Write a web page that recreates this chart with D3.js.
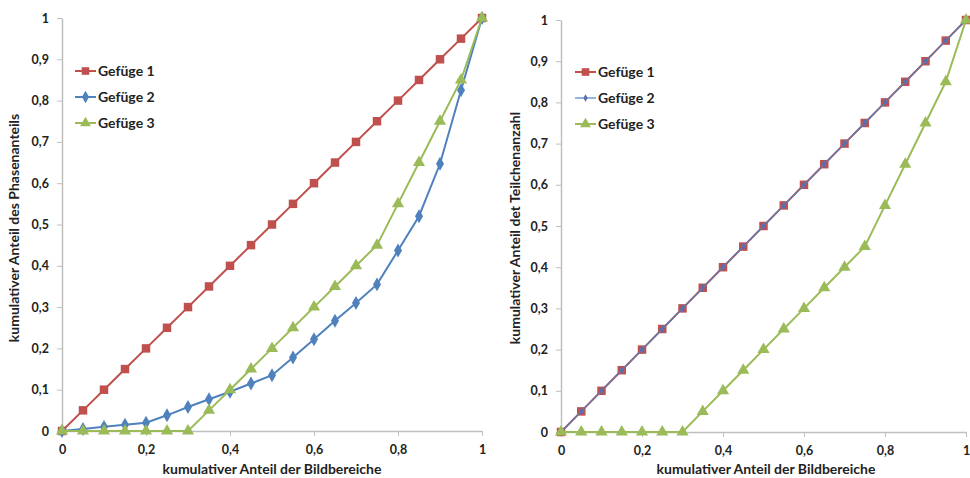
<!DOCTYPE html>
<html>
<head>
<meta charset="utf-8">
<script src="https://cdn.jsdelivr.net/npm/d3@7"></script>
<style>
  body { margin: 0; background: #fff; }
  svg text { font-family: Lato, "Open Sans", sans-serif; font-weight: bold; fill: #222; }
</style>
</head>
<body>
<svg id="chart" width="970" height="478"></svg>
<script>
// x-Werte (kumulativer Anteil der Bildbereiche)
var xVals = [0, 0.05, 0.1, 0.15, 0.2, 0.25, 0.3, 0.35, 0.4, 0.45, 0.5, 0.55, 0.6, 0.65, 0.7, 0.75, 0.8, 0.85, 0.9, 0.95, 1];

// linkes Diagramm: Phasenanteil
var phase1 = [0, 0.05, 0.1, 0.15, 0.2, 0.25, 0.3, 0.35, 0.4, 0.45, 0.5, 0.55, 0.6, 0.65, 0.7, 0.75, 0.8, 0.85, 0.9, 0.95, 1];
var phase2 = [0, 0.005, 0.01, 0.015, 0.02, 0.038, 0.058, 0.077, 0.095, 0.115, 0.135, 0.178, 0.222, 0.267, 0.31, 0.355, 0.437, 0.52, 0.647, 0.825, 1];
var phase3 = [0, 0, 0, 0, 0, 0, 0, 0.05, 0.1, 0.15, 0.2, 0.25, 0.3, 0.35, 0.4, 0.45, 0.55, 0.65, 0.75, 0.85, 1];

// rechtes Diagramm: Teilchenanzahl
var teil1 = [0, 0.05, 0.1, 0.15, 0.2, 0.25, 0.3, 0.35, 0.4, 0.45, 0.5, 0.55, 0.6, 0.65, 0.7, 0.75, 0.8, 0.85, 0.9, 0.95, 1];
var teil2 = [0, 0.05, 0.1, 0.15, 0.2, 0.25, 0.3, 0.35, 0.4, 0.45, 0.5, 0.55, 0.6, 0.65, 0.7, 0.75, 0.8, 0.85, 0.9, 0.95, 1];
var teil3 = [0, 0, 0, 0, 0, 0, 0, 0.05, 0.1, 0.15, 0.2, 0.25, 0.3, 0.35, 0.4, 0.45, 0.55, 0.65, 0.75, 0.85, 1];

var seriesNames = ["Gefüge 1", "Gefüge 2", "Gefüge 3"];
var xTicks = [0, 0.2, 0.4, 0.6, 0.8, 1];
var yTicks = [0, 0.1, 0.2, 0.3, 0.4, 0.5, 0.6, 0.7, 0.8, 0.9, 1];
var xTitle = "kumulativer Anteil der Bildbereiche";

var colors = ["#C0504D", "#4F81BD", "#9BBB59"];
var svg = d3.select("#chart");
var fmt = function (d) { return String(d).replace(".", ","); };

function drawPanel(cfg) {
    var x = d3.scaleLinear().domain([0, 1]).range([cfg.x0, cfg.x1]);
    var y = d3.scaleLinear().domain([0, 1]).range([cfg.y0, cfg.y1]);
    var g = svg.append("g");

    // Achsen
    var xAxis = g.append("g").attr("transform", "translate(0," + cfg.y0 + ")")
        .call(d3.axisBottom(x).tickValues(xTicks).tickFormat(fmt).tickSize(5).tickSizeOuter(0));
    var yAxis = g.append("g").attr("transform", "translate(" + cfg.x0 + ",0)")
        .call(d3.axisLeft(y).tickValues(yTicks).tickFormat(fmt).tickSize(5).tickSizeOuter(0));
    [xAxis, yAxis].forEach(function (a) {
        a.select(".domain").attr("stroke", "#bfbfbf").attr("stroke-width", 1.5);
        a.selectAll(".tick line").attr("stroke", "#bfbfbf");
        a.selectAll(".tick text").style("font-size", "12.5px").attr("fill", "#222");
    });
    xAxis.selectAll(".tick text").attr("dy", "1.2em");
    yAxis.selectAll(".tick text").attr("dx", "-5px");

    g.append("text")
        .attr("x", cfg.titleX)
        .attr("y", 474)
        .attr("text-anchor", "middle")
        .style("font-size", "14px")
        .text(xTitle);

    g.append("text")
        .attr("transform", "translate(" + cfg.yTitleX + ",228) rotate(-90)")
        .attr("text-anchor", "middle")
        .style("font-size", "14px")
        .text(cfg.yTitle);

    var line = d3.line()
        .x(function (d, i) { return x(xVals[i]); })
        .y(function (d) { return y(d); });

    cfg.series.forEach(function (vals, k) {
        var s = cfg.styles[k];
        g.append("path")
            .datum(vals)
            .attr("d", line)
            .attr("fill", "none")
            .attr("stroke", colors[k])
            .attr("stroke-width", s.width);
        g.append("g").selectAll("path").data(vals).enter()
            .append("path")
            .attr("transform", function (d, i) { return "translate(" + x(xVals[i]) + "," + y(d) + ")"; })
            .attr("d", d3.symbol().type(s.sym).size(s.size))
            .attr("fill", s.fill || colors[k])
            .attr("stroke", s.stroke || "none")
            .attr("stroke-width", 1);
    });

    // Legende
    var leg = g.append("g");
    seriesNames.forEach(function (name, k) {
        var s = cfg.styles[k];
        var ly = cfg.legY + k * 26;
        leg.append("line")
            .attr("x1", cfg.legX).attr("x2", cfg.legX + 21)
            .attr("y1", ly).attr("y2", ly)
            .attr("stroke", colors[k]).attr("stroke-width", s.width);
        leg.append("path")
            .attr("transform", "translate(" + (cfg.legX + 10.5) + "," + ly + ")")
            .attr("d", d3.symbol().type(s.sym).size(s.size * 0.8))
            .attr("fill", s.fill || colors[k])
            .attr("stroke", s.stroke || "none");
        leg.append("text")
            .attr("x", cfg.legX + 23).attr("y", ly + 5)
            .style("font-size", "14px")
            .text(name);
    });
}

drawPanel({
    x0: 62, x1: 482, y0: 431, y1: 18,
    titleX: 272, yTitleX: 19,
    yTitle: "kumulativer Anteil des Phasenanteils",
    series: [phase1, phase2, phase3],
    legX: 75, legY: 71,
    styles: [
        { sym: d3.symbolSquare, size: 72, width: 2 },
        { sym: d3.symbolDiamond, size: 56, width: 2 },
        { sym: d3.symbolTriangle, size: 64, width: 2 }
    ]
});

drawPanel({
    x0: 561, x1: 966, y0: 432, y1: 20,
    titleX: 766, yTitleX: 520,
    yTitle: "kumulativer Anteil det Teilchenanzahl",
    series: [teil1, teil2, teil3],
    legX: 575, legY: 72,
    styles: [
        { sym: d3.symbolSquare, size: 72, width: 2 },
        { sym: d3.symbolDiamond, size: 20, width: 1.2, fill: "#5a6fb0" },
        { sym: d3.symbolTriangle, size: 64, width: 2 }
    ]
});
</script>
</body>
</html>
